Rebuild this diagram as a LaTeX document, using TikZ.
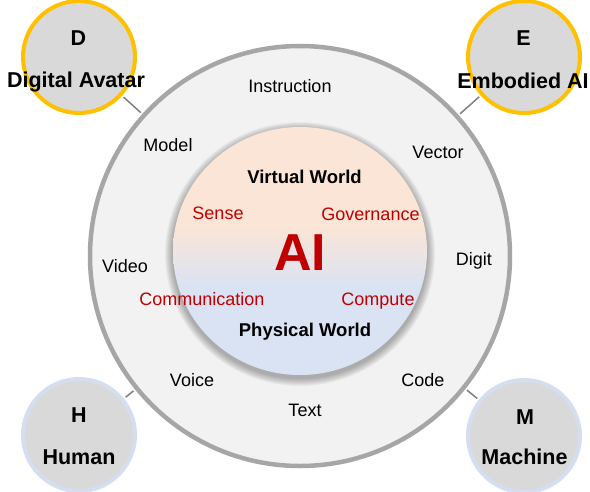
\documentclass[tikz,border=0pt]{standalone}
\usepackage{fontspec}
\setmainfont{Liberation Sans}
\usetikzlibrary{shapes.geometric}
\definecolor{peach}{HTML}{FBE5D6}
\definecolor{lblue}{HTML}{DAE3F3}
\definecolor{ringgray}{HTML}{A6A6A6}
\definecolor{ringfill}{HTML}{F2F2F2}
\definecolor{satfill}{HTML}{D9D9D9}
\definecolor{gold}{HTML}{FFC000}
\definecolor{satblue}{HTML}{D5DEF0}
\definecolor{aired}{HTML}{C00000}
\definecolor{conngray}{HTML}{808080}
\pgfdeclareverticalshading{worldshade}{100bp}{color(0bp)=(lblue); color(43bp)=(lblue); color(55bp)=(peach); color(100bp)=(peach)}
\tikzset{
  sat/.style={circle, fill=satfill, line width=4pt, minimum size=112pt, inner sep=0pt},
  sattxt/.style={font=\fontsize{21.5}{22}\selectfont\bfseries, inner sep=0pt},
  lbl/.style={font=\fontsize{18}{18}\selectfont, inner sep=0pt},
  redlbl/.style={lbl, text=aired},
  worldlbl/.style={font=\fontsize{18.5}{19}\selectfont\bfseries, inner sep=0pt},
  conn/.style={draw=conngray, line width=1.5pt, shorten <=2pt, shorten >=2pt},
}
\begin{document}
\begin{tikzpicture}[x=1pt,y=-1pt]
\useasboundingbox[fill=white] (0,0) rectangle (590,491);
% outer ring
\node[circle, draw=ringgray, line width=4.5pt, fill=ringfill, minimum size=420pt, inner sep=0pt] (ring) at (300,256) {};
% soft shadow of the inner circle
\foreach \d in {8,7,6,5,4,3,2,1}{
  \fill[black, opacity=0.04] (300,254) ellipse [x radius={127+\d}, y radius={124+\d}];
}
% inner world circle
\node[ellipse, minimum width=254pt, minimum height=248pt, inner sep=0pt, shade, shading=worldshade] (world) at (300,251) {};
% satellites
\node[sat, draw=gold] (D) at (79,57) {};
\node[sat, draw=gold] (E) at (524,57) {};
\node[sat, draw=satblue] (H) at (79,435) {};
\node[sat, draw=satblue] (M) at (524,436) {};
% connectors
\draw[conn] (D) -- (ring);
\draw[conn] (E) -- (ring);
\draw[conn] (H) -- (ring);
\draw[conn] (M) -- (ring);
% satellite texts
\node[sattxt] (Dl) at (78.5,38) {D};
\node[sattxt] (Dt) at (76,82) {Digital Avatar};
\node[sattxt] (El) at (523.5,38) {E};
\node[sattxt] (Et) at (523,81) {Embodied AI};
\node[sattxt] (Hl) at (79,415) {H};
\node[sattxt] (Ht) at (79,457) {Human};
\node[sattxt] (Ml) at (525,417) {M};
\node[sattxt] (Mt) at (524.5,457) {Machine};
% ring labels
\node[lbl] (instr) at (290,86) {Instruction};
\node[lbl] (model) at (168,145) {Model};
\node[lbl] (vector) at (438,152) {Vector};
\node[lbl] (video) at (125,266) {Video};
\node[lbl] (digit) at (474,261) {Digit};
\node[lbl] (voice) at (192,380) {Voice};
\node[lbl] (code) at (423,380) {Code};
\node[lbl] (text) at (305,410) {Text};
% inner labels
\node[worldlbl] (vw) at (304.5,177) {Virtual World};
\node[worldlbl] (pw) at (305,332) {Physical World};
\node[redlbl] (sense) at (218,213) {Sense};
\node[redlbl] (gov) at (370.5,214) {Governance};
\node[redlbl] (comm) at (202,299) {Communication};
\node[redlbl] (comp) at (378,301) {Compute};
\node[font=\fontsize{52}{52}\selectfont\bfseries, text=aired, inner sep=0pt] (ai) at (300,253) {AI};
\end{tikzpicture}
\end{document}
